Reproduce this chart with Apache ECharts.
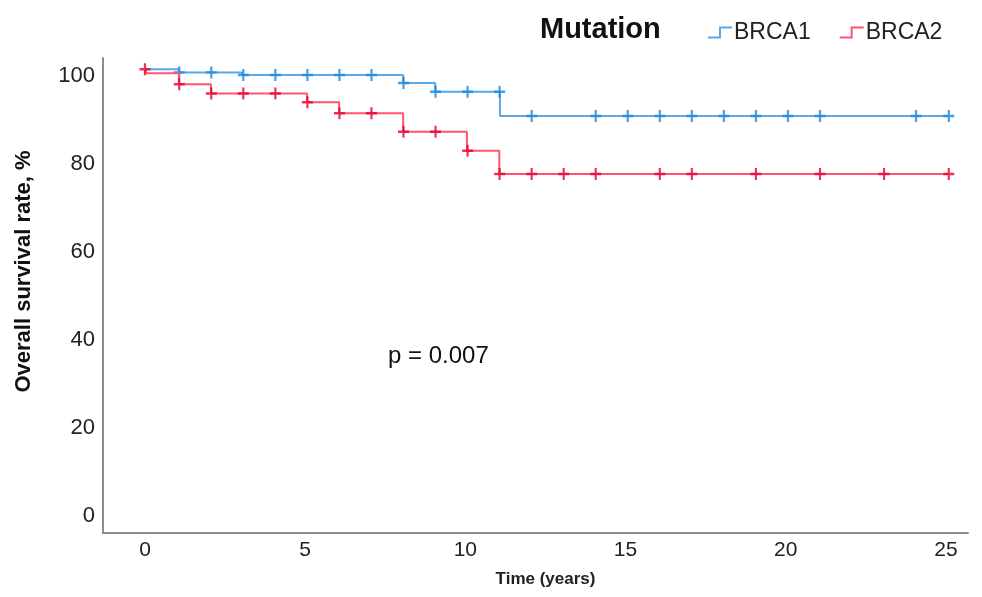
<!DOCTYPE html>
<html>
<head>
<meta charset="utf-8">
<script src="https://cdn.jsdelivr.net/npm/echarts@6/dist/echarts.min.js"></script>
<style>
  html, body { margin: 0; padding: 0; background: #fff; }
  #chart { width: 982px; height: 597px; }
</style>
</head>
<body>
<div id="chart"></div>
<script>
// Kaplan-Meier steps
let brca1Time = [0, 1.06, 3.03, 8.06, 9.06, 11.08, 25.09];
let brca1Surv = [100, 99.3, 98.7, 96.9, 94.9, 89.4, 89.4];
let brca1Censor = [1.07, 2.07, 3.07, 4.07, 5.07, 6.07, 7.07, 8.07, 9.07, 10.07, 11.07, 12.07,
    14.07, 15.07, 16.07, 17.07, 18.07, 19.07, 20.07, 21.07, 24.07, 25.09];

let brca2Time = [0, 0.05, 1.06, 2.06, 5.06, 6.06, 8.06, 10.05, 11.06, 25.09];
let brca2Surv = [100, 99.1, 96.6, 94.5, 92.5, 90.0, 85.8, 81.5, 76.2, 76.2];
let brca2Censor = [0, 1.07, 2.07, 3.07, 4.07, 5.07, 6.07, 7.07, 8.07, 9.07, 10.07, 11.07, 12.07,
    13.07, 14.07, 16.07, 17.07, 19.07, 21.07, 23.07, 25.09];

let xTicks = [0, 5, 10, 15, 20, 25];
let yTicks = [0, 20, 40, 60, 80, 100];

let font = "'Liberation Sans', Arial, sans-serif";

let blueLine = '#5aa8ea';
let blueMark = '#1a86dc';
let redLine = '#ff5472';
let redMark = '#e6002e';

let cross = 'path://M4,0h2v4h4v2h-4v4h-2v-4h-4v-2h4z';
let stepIcon = 'path://M0,10h11v-10h13v2h-11v10h-13z';

// survival level at time t (step function, level after any drop at t)
let levelAt = (times, surv, t) => {
    let v = surv[0];
    for (let i = 0; i < times.length; i++) {
        if (times[i] <= t) v = surv[i];
    }
    return v;
};

let zip = (a, b) => a.map((x, i) => [x, b[i]]);
let censorPts = (c, times, surv) => c.map(t => [t, levelAt(times, surv, t)]);

let chart = echarts.init(document.getElementById('chart'));

let option = {
    backgroundColor: '#fff',
    animation: false,
    title: {
        text: 'Mutation',
        left: 535,
        top: 10,
        textStyle: { fontFamily: font, fontSize: 29, fontWeight: 'bold', color: '#111' }
    },
    legend: {
        left: 703,
        top: 16,
        itemWidth: 24,
        itemHeight: 12,
        itemGap: 29,
        data: [
            { name: 'BRCA1', icon: stepIcon, itemStyle: { color: blueLine } },
            { name: 'BRCA2', icon: stepIcon, itemStyle: { color: redLine } }
        ],
        textStyle: { fontFamily: font, fontSize: 23, color: '#222', padding: [0, 0, 0, -3] }
    },
    grid: { left: 103, right: 14, top: 58, bottom: 64, outerBoundsMode: 'none' },
    xAxis: {
        type: 'value',
        min: -1.31,
        max: 25.69,
        name: 'Time (years)',
        nameLocation: 'middle',
        nameGap: 38,
        nameTextStyle: { fontFamily: font, fontSize: 17, fontWeight: 'bold', color: '#222', padding: [0, 0, 0, 20] },
        axisLine: { show: true, onZero: false, lineStyle: { color: '#8c8c8c', width: 2 } },
        axisTick: { show: false },
        splitLine: { show: false },
        axisLabel: {
            customValues: xTicks,
            margin: 7,
            fontFamily: font,
            fontSize: 21,
            color: '#222'
        }
    },
    yAxis: {
        type: 'value',
        min: -5.38,
        max: 102.57,
        name: 'Overall survival rate, %',
        nameLocation: 'middle',
        nameGap: 68,
        nameTextStyle: { fontFamily: font, fontSize: 22, fontWeight: 'bold', color: '#111', padding: [0, 0, 0, 48] },
        axisLine: { show: true, onZero: false, lineStyle: { color: '#8c8c8c', width: 2 } },
        axisTick: { show: false },
        splitLine: { show: false },
        axisLabel: {
            customValues: yTicks,
            margin: 8,
            verticalAlign: 'top',
            lineHeight: 14,
            fontFamily: font,
            fontSize: 22,
            color: '#222'
        }
    },
    graphic: [{
        type: 'text',
        left: 388,
        top: 344,
        style: { text: 'p = 0.007', fontFamily: font, fontSize: 24, fill: '#111' }
    }],
    series: [
        {
            name: 'BRCA1',
            type: 'line',
            step: 'end',
            data: zip(brca1Time, brca1Surv),
            showSymbol: false,
            lineStyle: { color: blueLine, width: 2 },
            itemStyle: { color: blueLine },
            z: 2
        },
        {
            name: 'BRCA1',
            type: 'scatter',
            data: censorPts(brca1Censor, brca1Time, brca1Surv),
            symbol: cross,
            symbolSize: [11, 12],
            itemStyle: { color: blueMark },
            z: 3
        },
        {
            name: 'BRCA2',
            type: 'line',
            step: 'end',
            data: zip(brca2Time, brca2Surv),
            showSymbol: false,
            lineStyle: { color: redLine, width: 2 },
            itemStyle: { color: redLine },
            z: 4
        },
        {
            name: 'BRCA2',
            type: 'scatter',
            data: censorPts(brca2Censor, brca2Time, brca2Surv),
            symbol: cross,
            symbolSize: [11, 12],
            itemStyle: { color: redMark },
            z: 5
        }
    ]
};

chart.setOption(option);
</script>
</body>
</html>
